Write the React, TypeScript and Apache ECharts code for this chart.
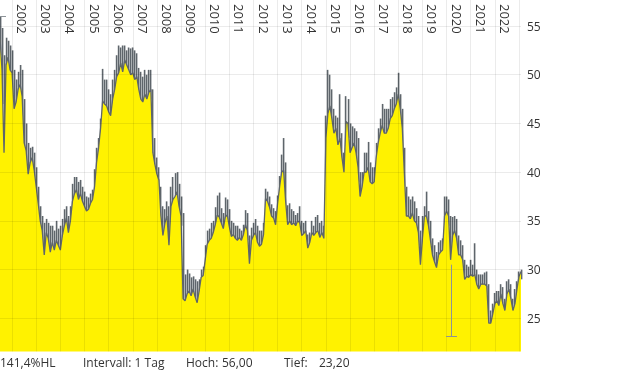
import React, { useEffect, useRef } from "react";
import * as echarts from "echarts";

// Monthly series, first month = July 2001
const START_YEAR = 2001;
const START_MONTH = 7;

const CLOSE = [
  53.8, 50.5, 42.0, 51.0, 51.8, 50.5,
  50.2, 46.5, 47.2, 48.5, 49.0, 47.8, 43.0, 42.2, 39.8, 41.0, 41.5, 40.2,
  38.5, 36.8, 35.0, 34.0, 31.5, 33.8, 33.2, 31.8, 32.8, 32.0, 33.0, 32.5,
  32.0, 33.5, 34.5, 35.3, 33.8, 35.0, 37.0, 37.8, 38.2, 37.2, 37.8, 37.0,
  36.5, 36.0, 36.2, 36.8, 37.2, 38.5, 41.0, 42.5, 44.5, 47.3, 47.0, 46.8,
  46.2, 45.8, 47.5, 48.5, 49.8, 50.2, 51.2, 50.3, 51.5, 51.0, 50.5, 50.0,
  50.2, 49.5, 49.8, 48.5, 47.5, 47.2, 48.0, 47.5, 48.2, 48.5, 42.0, 40.8,
  39.8, 39.2, 35.5, 33.5, 34.8, 35.5, 32.5, 36.5, 37.2, 37.5, 38.0, 36.5,
  35.5, 27.0, 26.8, 27.5, 27.8, 27.3, 28.0, 27.2, 26.6, 27.8, 29.2, 29.4,
  31.0, 32.6, 33.0, 33.2, 33.8, 34.6, 35.6, 35.4, 34.8, 34.2, 35.4, 35.6,
  34.4, 33.4, 33.6, 33.2, 33.0, 33.3, 33.0, 33.6, 34.6, 34.0, 30.6, 33.0,
  33.5, 33.8, 32.8, 32.4, 32.6, 33.6, 37.3, 37.0, 36.4, 35.5, 35.3, 34.6,
  36.8, 38.5, 40.0, 40.2, 37.0, 34.6, 35.0, 34.6, 34.8, 34.5, 35.0, 34.8,
  33.5, 33.7, 34.0, 32.2, 32.8, 33.8, 33.5, 33.8, 34.0, 33.3, 33.8, 33.2,
  43.5, 46.0, 46.8, 45.5, 44.0, 44.5, 42.8, 43.5, 41.5, 40.0, 45.2, 45.0,
  42.0, 42.5, 43.0, 42.0, 40.5, 37.5, 38.5, 40.0, 40.0, 40.5, 39.0, 38.8,
  39.0, 41.5, 43.0, 44.0, 44.8, 44.0, 44.0, 44.5, 45.5, 45.8, 46.5, 47.0,
  48.0, 46.5, 44.5, 40.0, 35.5, 35.5, 35.2, 35.8, 35.0, 34.8, 33.8, 30.5,
  33.2, 35.5, 35.5, 34.5, 33.0, 31.5, 30.8, 30.2, 31.5, 31.8, 32.0, 35.5,
  36.0, 35.5, 31.0, 33.5, 34.0, 33.2, 31.5, 31.5, 31.0, 29.0, 29.3, 29.2,
  29.5, 29.3, 29.5, 28.5, 28.0, 28.5, 28.5, 28.5, 28.3, 24.5, 24.5, 25.5,
  26.5, 26.8, 26.3, 27.5, 26.5, 25.8, 27.5, 28.0, 27.0, 25.8, 26.5, 28.0,
  29.3, 29.8,
];

const HIGH = [
  56.0, 54.8, 52.0, 53.8, 53.5, 53.0,
  52.5, 50.5, 49.5, 50.3, 51.0, 50.5, 47.5, 45.0, 43.0, 42.5, 42.6, 42.0,
  40.5, 38.5, 36.5, 35.5, 34.8, 35.2, 34.8, 34.5, 34.5, 34.0, 35.0, 34.2,
  34.5, 35.2, 36.2, 36.5, 35.5, 36.5, 38.8, 39.5, 39.5, 39.0, 39.2, 38.5,
  38.0, 37.5, 37.4, 37.8, 38.2, 40.3, 42.5, 43.5, 45.5, 50.6, 49.5, 49.5,
  48.5, 48.0, 49.5, 50.5, 52.0, 53.0, 52.8, 53.0, 53.0, 52.5, 52.8, 52.7,
  52.8, 52.5, 52.2, 50.7, 50.3, 49.8, 50.5, 50.0, 50.5, 50.5, 48.5, 43.5,
  41.5, 40.5, 38.5, 36.5, 36.2, 37.0, 36.5, 38.5, 39.5, 39.9, 40.0, 38.8,
  37.5, 35.8, 29.5, 30.0, 29.6, 29.2, 29.3, 29.0, 28.8, 29.0, 30.0, 30.3,
  32.5, 34.0, 34.2, 34.8, 35.0, 36.4, 37.6, 37.9, 36.3, 35.8, 37.4, 37.2,
  36.2, 35.0, 34.8, 34.5, 34.5, 34.2, 34.0, 34.6, 36.1, 35.8, 33.5, 34.3,
  34.8, 35.2, 34.5, 34.0, 34.0, 34.8, 38.3, 38.0, 37.5, 36.7, 36.3, 36.0,
  37.6, 39.6, 41.8, 43.5, 41.0, 36.6, 36.8, 36.2, 36.0, 35.6, 35.8, 36.5,
  35.0, 34.8, 35.0, 33.6, 33.8, 35.0, 34.5, 35.4, 35.6, 34.8, 35.0, 34.5,
  45.8, 50.5, 50.0, 48.5, 46.5, 45.8, 45.6, 48.0, 44.0, 42.0, 47.8, 47.5,
  45.0, 44.7, 44.5, 44.2, 43.5, 40.0, 40.0, 42.0, 42.0, 43.1, 41.0, 40.5,
  40.5, 43.0, 44.5, 45.5, 47.0, 46.5, 46.5, 46.5, 47.5, 47.7, 48.2, 48.7,
  50.2, 48.0, 46.5, 42.5, 38.5, 37.5, 37.2, 37.5, 37.0, 36.3, 35.5, 34.0,
  35.5, 36.5, 38.0, 36.0, 35.0, 33.2, 32.5, 31.8, 32.8, 33.0, 33.2, 37.5,
  37.5, 37.2, 35.5, 35.4, 35.5, 35.2, 33.5, 33.0, 32.5, 31.0, 30.5, 30.3,
  31.0, 30.5, 32.7, 30.0, 29.5, 29.5, 29.5, 29.7, 29.8, 28.5, 25.8, 26.5,
  27.6, 27.8, 27.8, 28.5, 28.2, 27.0, 28.8, 29.0, 28.5, 27.0, 28.0, 28.8,
  29.8, 30.0,
];

const LOW = [
  52.0, 47.0, 41.0, 44.0, 49.5, 48.5,
  48.0, 44.0, 45.5, 46.5, 47.0, 45.0, 41.0, 40.5, 38.5, 39.0, 40.0, 39.0,
  37.5, 35.8, 33.5, 32.5, 30.3, 31.5, 31.5, 29.5, 30.5, 30.5, 31.0, 31.0,
  31.0, 31.5, 32.8, 33.5, 31.8, 33.5, 35.0, 36.0, 36.5, 36.0, 36.5, 36.0,
  35.5, 35.3, 35.5, 35.8, 36.0, 36.8, 38.5, 40.5, 42.0, 44.0, 45.5, 45.0,
  45.0, 44.5, 45.0, 46.5, 47.0, 47.5, 48.5, 47.5, 49.0, 48.5, 48.0, 48.5,
  48.5, 48.0, 47.5, 47.0, 46.5, 46.5, 47.0, 46.8, 47.0, 47.5, 40.5, 40.0,
  39.0, 38.0, 33.5, 32.4, 33.2, 33.0, 30.5, 33.0, 35.5, 36.0, 36.5, 35.0,
  34.5, 25.2, 25.5, 26.2, 26.5, 26.3, 27.0, 26.3, 25.8, 26.5, 27.5, 28.5,
  29.3, 31.2, 32.0, 32.0, 32.5, 33.2, 34.5, 34.3, 33.8, 33.4, 34.0, 34.4,
  33.4, 32.8, 32.8, 32.4, 32.2, 32.3, 32.4, 32.5, 33.5, 33.0, 29.5, 31.5,
  32.6, 32.8, 31.8, 31.5, 31.5, 32.0, 33.5, 36.0, 35.2, 34.5, 34.0, 33.3,
  35.0, 36.5, 38.5, 39.0, 36.0, 33.3, 33.8, 33.5, 33.8, 33.8, 34.0, 34.0,
  33.0, 33.0, 33.2, 31.5, 32.0, 32.8, 32.8, 33.0, 33.2, 32.0, 33.0, 32.6,
  33.0, 43.5, 44.5, 44.0, 42.5, 42.8, 41.3, 39.9, 39.9, 37.9, 40.0, 43.5,
  40.5, 40.5, 41.0, 40.5, 39.0, 36.5, 36.8, 38.5, 38.8, 38.5, 37.8, 37.5,
  37.5, 38.0, 41.0, 42.0, 43.0, 42.5, 42.0, 43.0, 44.0, 44.5, 45.0, 45.5,
  46.0, 45.0, 42.5, 38.5, 34.0, 34.2, 34.0, 34.5, 33.8, 33.5, 32.5, 27.8,
  31.0, 33.0, 34.5, 33.2, 32.5, 30.5, 29.8, 29.4, 30.0, 30.8, 31.2, 32.0,
  34.5, 34.5, 30.0, 31.0, 32.5, 32.0, 30.3, 30.5, 30.0, 26.6, 28.0, 28.5,
  28.5, 28.3, 28.5, 27.8, 27.3, 27.5, 27.8, 27.8, 27.5, 23.5, 23.5, 24.0,
  25.5, 25.5, 25.3, 26.0, 25.8, 25.0, 26.0, 27.0, 26.0, 25.2, 25.5, 27.0,
  28.2, 29.0,
];

const Y_TICKS = [25, 30, 35, 40, 45, 50, 55];
const Y_MIN = 21.59;
const Y_MAX = 57.67;

const PERIOD_HIGH = 56.0;
const PERIOD_HIGH_MONTH = "2001-07";
const PERIOD_LOW = 23.2;
const PERIOD_LOW_MONTH = "2020-03";
const PERIOD_LOW_SPIKE_FROM = 30.5;
const INTERVAL_TEXT = "Intervall: 1 Tag";

const MONTHS = CLOSE.map((_, i) => {
  const m = START_MONTH - 1 + i;
  const y = START_YEAR + Math.floor(m / 12);
  const mm = (m % 12) + 1;
  return `${y}-${String(mm).padStart(2, "0")}`;
});

const YELLOW = "#fff200";
const GRAY = "#5e656b";
const MARK = "#8d9398";
const GRID = "rgba(0,0,0,0.08)";
const TEXT = "#333333";
const FONT = "Open Sans";

const fmt = (v: number) => v.toFixed(2).replace(".", ",");

export default function App() {
  const ref = useRef<HTMLDivElement>(null);
  useEffect(() => {
    if (!ref.current) return;
    const chart = echarts.init(ref.current, null, { renderer: "svg" });
    const range = (((PERIOD_HIGH - PERIOD_LOW) / PERIOD_LOW) * 100).toFixed(1).replace(".", ",");
    const footY = 362;
    const option: any = {
      animation: false,
      grid: { left: 0, top: 0, right: 99, bottom: 20.5 },
      xAxis: {
        type: "category",
        data: MONTHS,
        boundaryGap: false,
        position: "top",
        z: 3,
        axisLine: { show: false },
        axisTick: { show: false },
        splitLine: {
          show: true,
          interval: (_i: number, v: string) => v.endsWith("-01"),
          lineStyle: { color: GRID, width: 1 },
        },
        axisLabel: {
          inside: true,
          rotate: 90,
          margin: 4,
          interval: (_i: number, v: string) => v.endsWith("-06") && Number(v.slice(0, 4)) >= 2002,
          formatter: (v: string) => v.slice(0, 4),
          color: TEXT,
          fontSize: 13,
          fontFamily: FONT,
        },
      },
      yAxis: {
        type: "value",
        position: "right",
        min: Y_MIN,
        max: Y_MAX,
        z: 3,
        axisLine: { show: false },
        axisTick: { show: false, customValues: Y_TICKS },
        axisLabel: { customValues: Y_TICKS, margin: 6, color: TEXT, fontSize: 12, fontFamily: FONT },
        splitLine: { show: true, lineStyle: { color: GRID, width: 1 } },
      },
      series: [
        {
          type: "custom",
          name: "HL",
          z: 1,
          silent: true,
          encode: { x: 0, y: [1, 2] },
          data: MONTHS.map((m, i) => [m, LOW[i], HIGH[i]]),
          renderItem: (_p: any, api: any) => {
            const lo = api.coord([api.value(0), api.value(1)]);
            const hi = api.coord([api.value(0), api.value(2)]);
            const x = Math.floor(lo[0]) - 0.2;
            return {
              type: "rect",
              shape: { x: x, y: hi[1], width: 1.6, height: lo[1] - hi[1] },
              style: { fill: GRAY },
            };
          },
        },
        {
          type: "line",
          name: "Schluss",
          z: 2,
          data: CLOSE,
          showSymbol: false,
          symbol: "none",
          silent: true,
          lineStyle: { color: GRAY, width: 1.3 },
          areaStyle: { color: YELLOW, opacity: 1 },
        },
        {
          type: "custom",
          name: "Extreme",
          z: 4,
          silent: true,
          encode: { x: 0, y: [1, 2] },
          data: [
            [PERIOD_HIGH_MONTH, PERIOD_HIGH, PERIOD_HIGH],
            [PERIOD_LOW_MONTH, PERIOD_LOW, PERIOD_LOW_SPIKE_FROM],
          ],
          renderItem: (_p: any, api: any) => {
            const p = api.coord([api.value(0), api.value(1)]);
            const q = api.coord([api.value(0), api.value(2)]);
            const x = Math.round(p[0]) + 0.5;
            const y = Math.round(p[1]) + 0.5;
            return {
              type: "group",
              children: [
                { type: "line", shape: { x1: x, y1: q[1], x2: x, y2: y }, style: { stroke: MARK, lineWidth: 1 } },
                { type: "line", shape: { x1: x - 5.5, y1: y, x2: x + 5.5, y2: y }, style: { stroke: MARK, lineWidth: 1 } },
              ],
            };
          },
        },
      ],
      graphic: [
        { type: "text", x: 0, y: footY, style: { text: `${range}%HL`, fill: TEXT, fontSize: 12, fontFamily: FONT, verticalAlign: "middle" } },
        { type: "text", x: 83, y: footY, style: { text: INTERVAL_TEXT, fill: TEXT, fontSize: 12, fontFamily: FONT, verticalAlign: "middle" } },
        { type: "text", x: 186, y: footY, style: { text: "Hoch:", fill: TEXT, fontSize: 12, fontFamily: FONT, verticalAlign: "middle" } },
        { type: "text", x: 222, y: footY, style: { text: fmt(PERIOD_HIGH), fill: TEXT, fontSize: 12, fontFamily: FONT, verticalAlign: "middle" } },
        { type: "text", x: 284, y: footY, style: { text: "Tief:", fill: TEXT, fontSize: 12, fontFamily: FONT, verticalAlign: "middle" } },
        { type: "text", x: 319, y: footY, style: { text: fmt(PERIOD_LOW), fill: TEXT, fontSize: 12, fontFamily: FONT, verticalAlign: "middle" } },
      ],
    };
    chart.setOption(option);
    return () => chart.dispose();
  }, []);
  return <div ref={ref} style={{ position: "fixed", left: 0, top: 0, width: 620, height: 372 }} />;
}
